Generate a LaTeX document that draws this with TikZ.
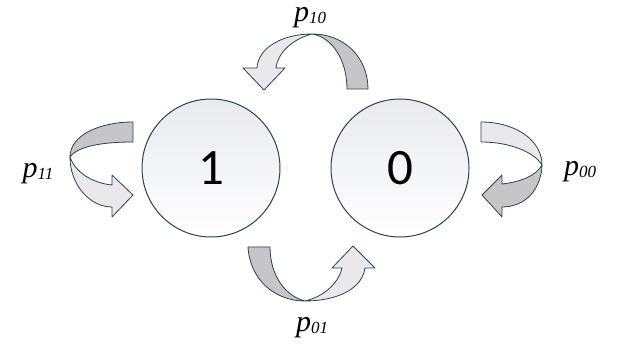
\documentclass[tikz,border=0pt]{standalone}
\usepackage{fontspec}
\setmainfont{Liberation Serif}
\newfontfamily\digitfont{Carlito}
\definecolor{edge}{HTML}{28434F}
\definecolor{backside}{HTML}{C6C6C8}
\definecolor{frontside}{HTML}{E9E9EB}
\definecolor{disc}{HTML}{E9EAEE}
\newcommand{\trans}[1]{\textit{p}\raisebox{-1.5pt}{\fontsize{17}{17}\selectfont\textit{#1}}}

\begin{document}
\begin{tikzpicture}[x=1pt,y=-1pt,
  state/.style={circle,draw=edge,line width=1pt,minimum size=138pt,inner sep=0pt,
    top color=disc,bottom color=white,font=\fontsize{51}{51}\selectfont\digitfont},
  back/.style={draw=edge,line width=0.8pt,fill=backside,line join=round},
  front/.style={draw=edge,line width=0.8pt,fill=frontside,line join=round},
  prob/.style={font=\fontsize{30}{30}\selectfont,inner sep=0pt}]
  \useasboundingbox (0,0) rectangle (626,352);
  % the two states
  \node[state] (one) at (211,168) {1};
  \node[state] (zero) at (400,168) {0};
  % over the top: 0 -> 1
  \draw[back] (368,89) .. controls (368,58) and (345,34) .. (312,34)
    .. controls (332,37) and (347,60) .. (347,89) -- cycle;
  \draw[front] (312,34) .. controls (282,34) and (258,48) .. (257,68) -- (243,68)
    -- (264,90) -- (285,68) -- (276,68) .. controls (278,52) and (293,39) .. (312,34) -- cycle;
  \node[prob] (p10) at (310,18) {\trans{10}};
  % loop on 1
  \draw[back] (133,122) .. controls (100,122) and (70,135) .. (70,157)
    .. controls (78,146) and (103,142) .. (133,142) -- cycle;
  \draw[front] (70,157) .. controls (70,185) and (90,207) .. (112,207) -- (112,217)
    -- (133,195) -- (112,175) -- (112,185) .. controls (92,183) and (75,172) .. (70,157) -- cycle;
  \node[prob] (p11) at (38,174) {\trans{11}};
  % loop on 0
  \draw[front] (481,122) .. controls (515,122) and (542,140) .. (542,165)
    .. controls (534,152) and (510,142) .. (481,142) -- cycle;
  \draw[back] (542,165) .. controls (541,190) and (525,207) .. (502,207) -- (502,217)
    -- (482,195) -- (502,175) -- (502,184) .. controls (520,182) and (536,176) .. (542,165) -- cycle;
  \node[prob] (p00) at (580,172) {\trans{00}};
  % under the bottom: 1 -> 0
  \draw[back] (248,247) .. controls (250,280) and (275,301) .. (305,301)
    .. controls (285,296) and (270,275) .. (270,247) -- cycle;
  \draw[front] (305,301) .. controls (335,301) and (362,290) .. (365,268) -- (375,268)
    -- (353,246) -- (332,268) -- (342,268) .. controls (338,285) and (322,297) .. (305,301) -- cycle;
  \node[prob] (p01) at (312,328) {\trans{01}};
\end{tikzpicture}
\end{document}
